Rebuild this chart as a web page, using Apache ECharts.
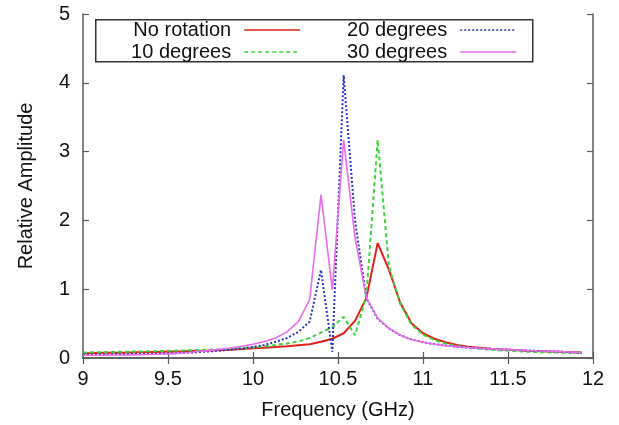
<!DOCTYPE html>
<html>
<head>
<meta charset="utf-8">
<script src="https://cdn.jsdelivr.net/npm/echarts@6/dist/echarts.min.js"></script>
<style>html,body{margin:0;padding:0;background:#fff}#c{width:619px;height:425px}</style>
</head>
<body>
<div id="c"></div>
<script>
const freq = [9, 9.0667, 9.1333, 9.2, 9.2667, 9.3333, 9.4, 9.4667, 9.5333, 9.6, 9.6667, 9.7333, 9.8, 9.8667, 9.9333,
  10, 10.0667, 10.1333, 10.2, 10.2667, 10.3333, 10.4, 10.4667, 10.5333, 10.6, 10.6667, 10.7333, 10.8, 10.8667, 10.9333,
  11, 11.0667, 11.1333, 11.2, 11.2667, 11.3333, 11.4, 11.4667, 11.5333, 11.6, 11.6667, 11.7333, 11.8, 11.8667, 11.9333];
const noRotation = [0.07, 0.072, 0.075, 0.078, 0.08, 0.083, 0.086, 0.09, 0.094, 0.098, 0.103, 0.108, 0.114, 0.121, 0.13,
  0.14, 0.15, 0.16, 0.17, 0.185, 0.2, 0.235, 0.28, 0.36, 0.54, 0.87, 1.67, 1.28, 0.8, 0.5,
  0.36, 0.28, 0.23, 0.19, 0.165, 0.15, 0.135, 0.125, 0.115, 0.107, 0.1, 0.095, 0.09, 0.085, 0.08];
const deg10 = [0.08, 0.083, 0.086, 0.089, 0.092, 0.095, 0.098, 0.102, 0.106, 0.11, 0.115, 0.12, 0.127, 0.135, 0.145,
  0.155, 0.17, 0.19, 0.21, 0.24, 0.29, 0.37, 0.45, 0.6, 0.33, 0.9, 3.17, 1.33, 0.78, 0.48,
  0.34, 0.26, 0.21, 0.175, 0.15, 0.135, 0.12, 0.11, 0.1, 0.093, 0.087, 0.082, 0.078, 0.075, 0.072];
const deg20 = [0.05, 0.051, 0.052, 0.054, 0.056, 0.058, 0.061, 0.065, 0.07, 0.076, 0.084, 0.094, 0.106, 0.12, 0.137,
  0.16, 0.19, 0.235, 0.29, 0.38, 0.53, 1.28, 0.09, 4.11, 2.0, 0.87, 0.57, 0.43, 0.33, 0.27,
  0.23, 0.2, 0.18, 0.165, 0.152, 0.142, 0.133, 0.125, 0.118, 0.111, 0.105, 0.1, 0.092, 0.085, 0.078];
const deg30 = [0.04, 0.041, 0.042, 0.044, 0.046, 0.049, 0.053, 0.058, 0.064, 0.072, 0.092, 0.107, 0.125, 0.145, 0.17,
  0.2, 0.24, 0.29, 0.38, 0.53, 0.85, 2.37, 0.99, 3.17, 1.75, 0.88, 0.58, 0.43, 0.33, 0.27,
  0.23, 0.2, 0.18, 0.165, 0.152, 0.142, 0.133, 0.125, 0.118, 0.111, 0.105, 0.1, 0.093, 0.087, 0.08];
const seriesNames = ['No rotation', '10 degrees', '20 degrees', '30 degrees'];
const xTitle = 'Frequency (GHz)';
const yTitle = 'Relative Amplitude';

const FONT = '"Liberation Sans", Arial, Helvetica, sans-serif';
const frame = '#5a5a5a';
function pairs(ys) { return freq.map((x, i) => [x, ys[i]]); }

const chart = echarts.init(document.getElementById('c'), null, {renderer: 'canvas'});
const axisCommon = {
  axisLine: {show: true, lineStyle: {color: frame, width: 1.5}},
  axisTick: {show: true, inside: true, length: 6, lineStyle: {color: frame, width: 1.2}},
  splitLine: {show: false}
};
const legendCommon = {
  orient: 'vertical', align: 'right', top: 19, padding: 0, itemGap: 0,
  itemWidth: 56, itemHeight: 14, z: 5,
  itemStyle: {opacity: 0, borderWidth: 0},
  lineStyle: {width: 1.6},
  textStyle: {fontFamily: FONT, fontSize: 20, color: '#111', lineHeight: 22, padding: [0, 8, 0, 0]}
};
chart.setOption({
  animation: false,
  backgroundColor: '#fff',
  grid: {left: 83, right: 26, top: 14, bottom: 67, containLabel: false},
  graphic: [{
    type: 'rect', z: 3, left: 95, top: 19,
    shape: {width: 437, height: 42},
    style: {fill: '#fff', stroke: '#333', lineWidth: 1.5}
  }],
  legend: [Object.assign({data: [seriesNames[0], seriesNames[1]], right: 318}, legendCommon),
           Object.assign({data: [seriesNames[2], seriesNames[3]], right: 102}, legendCommon)],
  xAxis: [Object.assign({
    type: 'value', min: 9, max: 12, interval: 0.5, position: 'bottom',
    name: xTitle, nameLocation: 'middle', nameGap: 42,
    nameTextStyle: {fontFamily: FONT, fontSize: 20, color: '#111'},
    axisLabel: {fontFamily: FONT, fontSize: 20, color: '#111', margin: 11}
  }, axisCommon), Object.assign({
    type: 'value', min: 9, max: 12, interval: 0.5, position: 'top',
    axisLabel: {show: false}
  }, axisCommon)],
  yAxis: [Object.assign({
    type: 'value', min: 0, max: 5, interval: 1, position: 'left',
    name: yTitle, nameLocation: 'middle', nameGap: 47,
    nameTextStyle: {fontFamily: FONT, fontSize: 20, color: '#111'},
    axisLabel: {fontFamily: FONT, fontSize: 20, color: '#111', margin: 13}
  }, axisCommon), Object.assign({
    type: 'value', min: 0, max: 5, interval: 1, position: 'right',
    axisLabel: {show: false}
  }, axisCommon)],
  series: [{
    name: seriesNames[0], type: 'line', data: pairs(noRotation), symbol: 'none', showSymbol: false,
    color: '#e0201b', lineStyle: {color: '#e0201b', width: 2}
  }, {
    name: seriesNames[1], type: 'line', data: pairs(deg10), symbol: 'none', showSymbol: false,
    color: '#3ad43a', lineStyle: {color: '#3ad43a', width: 2, type: [4, 3]}
  }, {
    name: seriesNames[2], type: 'line', data: pairs(deg20), symbol: 'none', showSymbol: false,
    color: '#2a35c0', lineStyle: {color: '#2a35c0', width: 2, type: [2, 2]}
  }, {
    name: seriesNames[3], type: 'line', data: pairs(deg30), symbol: 'none', showSymbol: false,
    color: '#ec6aec', lineStyle: {color: '#ec6aec', width: 1.6}
  }]
});
</script>
</body>
</html>
